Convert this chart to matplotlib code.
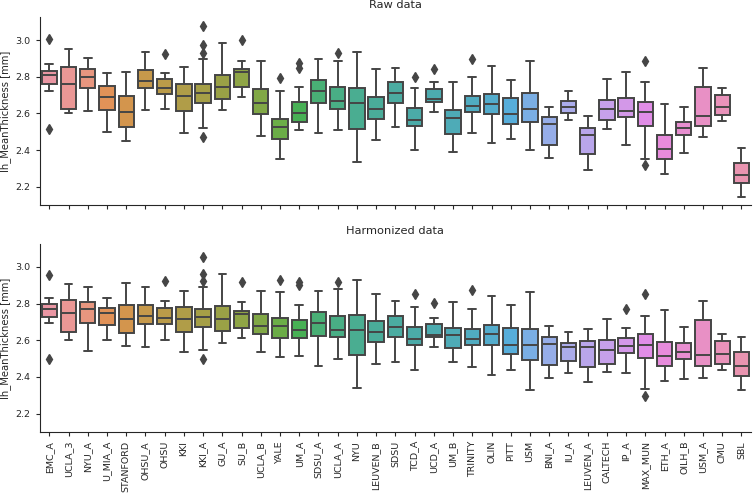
import colorsys
import matplotlib
matplotlib.use("Agg")
import matplotlib.pyplot as plt
import seaborn as sns

sns.set_style("ticks")
plt.rcParams["font.family"] = ["DejaVu Sans"]

SITES = ["EMC_A", "UCLA_3", "NYU_A", "U_MIA_A", "STANFORD", "OHSU_A", "OHSU",
         "KKI", "KKI_A", "GU_A", "SU_B", "UCLA_B", "YALE", "UM_A", "SDSU_A",
         "UCLA_A", "NYU", "LEUVEN_B", "SDSU", "TCD_A", "UCD_A", "UM_B",
         "TRINITY", "OLIN", "PITT", "USM", "BNI_A", "IU_A", "LEUVEN_A",
         "CALTECH", "IP_A", "MAX_MUN", "ETH_A", "OILH_B", "USM_A", "CMU", "SBL"]

# Raw data: whisker low, q1, median, q3, whisker high, fliers
raw_lo = [2.724, 2.601, 2.612, 2.501, 2.449, 2.621, 2.624, 2.494, 2.521, 2.617,
          2.688, 2.478, 2.350, 2.512, 2.494, 2.512, 2.334, 2.454, 2.525, 2.401,
          2.608, 2.392, 2.494, 2.438, 2.461, 2.401, 2.358, 2.565, 2.294, 2.517,
          2.427, 2.352, 2.269, 2.385, 2.472, 2.557, 2.146]
raw_q1 = [2.759, 2.626, 2.737, 2.619, 2.527, 2.737, 2.704, 2.612, 2.655, 2.679,
          2.742, 2.599, 2.459, 2.554, 2.655, 2.626, 2.514, 2.572, 2.655, 2.530,
          2.664, 2.487, 2.608, 2.595, 2.541, 2.556, 2.427, 2.605, 2.381, 2.563,
          2.579, 2.534, 2.349, 2.483, 2.530, 2.594, 2.220]
raw_med = [2.810, 2.759, 2.797, 2.690, 2.610, 2.775, 2.739, 2.697, 2.713, 2.746,
           2.826, 2.655, 2.527, 2.601, 2.720, 2.668, 2.655, 2.626, 2.710, 2.565,
           2.679, 2.576, 2.641, 2.650, 2.597, 2.624, 2.543, 2.637, 2.483, 2.624,
           2.612, 2.610, 2.407, 2.519, 2.588, 2.637, 2.262]
raw_q3 = [2.833, 2.855, 2.840, 2.750, 2.697, 2.837, 2.786, 2.762, 2.759, 2.810,
          2.840, 2.733, 2.568, 2.661, 2.780, 2.744, 2.737, 2.689, 2.770, 2.632,
          2.733, 2.617, 2.693, 2.704, 2.686, 2.712, 2.579, 2.668, 2.523, 2.675,
          2.686, 2.664, 2.481, 2.556, 2.744, 2.702, 2.331]
raw_hi = [2.869, 2.953, 2.904, 2.820, 2.828, 2.935, 2.820, 2.855, 2.897, 2.985,
          2.889, 2.889, 2.720, 2.744, 2.897, 2.889, 2.935, 2.842, 2.846, 2.737,
          2.773, 2.773, 2.799, 2.857, 2.781, 2.889, 2.637, 2.720, 2.586, 2.786,
          2.828, 2.773, 2.652, 2.634, 2.849, 2.737, 2.412]
raw_fliers = {"EMC_A": [3.004, 2.514], "OHSU": [2.922],
              "KKI_A": [3.080, 2.971, 2.931, 2.470], "SU_B": [3.000],
              "YALE": [2.795], "UM_A": [2.875, 2.849], "UCLA_A": [2.929],
              "TCD_A": [2.799], "UCD_A": [2.844], "TRINITY": [2.898],
              "MAX_MUN": [2.889, 2.318]}

# Harmonized data
harm_lo = [2.695, 2.603, 2.543, 2.603, 2.569, 2.561, 2.603, 2.536, 2.547, 2.583,
           2.610, 2.536, 2.507, 2.514, 2.458, 2.500, 2.338, 2.469, 2.483, 2.440,
           2.561, 2.480, 2.454, 2.413, 2.436, 2.329, 2.393, 2.422, 2.373, 2.427,
           2.422, 2.333, 2.376, 2.387, 2.393, 2.436, 2.329]
harm_q1 = [2.728, 2.643, 2.692, 2.683, 2.639, 2.686, 2.690, 2.647, 2.670, 2.652,
           2.665, 2.632, 2.614, 2.610, 2.625, 2.618, 2.521, 2.590, 2.619, 2.572,
           2.616, 2.556, 2.572, 2.572, 2.527, 2.494, 2.463, 2.487, 2.456, 2.469,
           2.529, 2.502, 2.458, 2.498, 2.458, 2.473, 2.404]
harm_med = [2.773, 2.750, 2.768, 2.748, 2.715, 2.730, 2.724, 2.717, 2.726, 2.717,
            2.741, 2.677, 2.676, 2.654, 2.692, 2.656, 2.654, 2.645, 2.674, 2.607,
            2.630, 2.628, 2.605, 2.632, 2.576, 2.576, 2.581, 2.565, 2.561, 2.547,
            2.569, 2.576, 2.514, 2.538, 2.521, 2.525, 2.460]
harm_q3 = [2.797, 2.822, 2.810, 2.775, 2.793, 2.790, 2.775, 2.779, 2.768, 2.786,
           2.759, 2.743, 2.719, 2.708, 2.755, 2.732, 2.739, 2.706, 2.732, 2.672,
           2.690, 2.665, 2.661, 2.683, 2.665, 2.661, 2.616, 2.583, 2.598, 2.603,
           2.614, 2.632, 2.589, 2.583, 2.710, 2.598, 2.534]
harm_hi = [2.831, 2.906, 2.891, 2.833, 2.913, 2.888, 2.815, 2.869, 2.891, 2.962,
           2.811, 2.869, 2.862, 2.793, 2.871, 2.880, 2.927, 2.853, 2.815, 2.782,
           2.723, 2.806, 2.772, 2.839, 2.790, 2.862, 2.679, 2.645, 2.661, 2.717,
           2.666, 2.732, 2.763, 2.670, 2.815, 2.636, 2.619]
harm_fliers = {"EMC_A": [2.958, 2.500], "OHSU": [2.926],
               "KKI_A": [3.056, 2.964, 2.926, 2.500], "SU_B": [2.918],
               "YALE": [2.929], "UM_A": [2.918, 2.900], "UCLA_A": [2.917],
               "TCD_A": [2.850], "UCD_A": [2.801], "TRINITY": [2.875],
               "IP_A": [2.768], "MAX_MUN": [2.853, 2.297]}

PANELS = [("Raw data", raw_lo, raw_q1, raw_med, raw_q3, raw_hi, raw_fliers),
          ("Harmonized data", harm_lo, harm_q1, harm_med, harm_q3, harm_hi, harm_fliers)]

# seaborn-style colours: husl palette, desaturated by 0.75 (a little lighter)
colors = [sns.desaturate(c, .75) for c in sns.husl_palette(len(SITES), l=.7)]
lum = min(colorsys.rgb_to_hls(*c)[1] for c in colors) * .6
gray = (lum, lum, lum)

fig = plt.figure(figsize=(7.56, 4.93), dpi=100)
ax_top = fig.add_axes([0.0525, 0.584, 0.941, 0.381])
ax_bot = fig.add_axes([0.0525, 0.124, 0.941, 0.381], sharex=ax_top, sharey=ax_top)

for ax, (title, lo, q1, med, q3, hi, fl) in zip([ax_top, ax_bot], PANELS):
    stats = [dict(whislo=lo[i], q1=q1[i], med=med[i], q3=q3[i], whishi=hi[i],
                  fliers=fl.get(s, []), label=s) for i, s in enumerate(SITES)]
    bp = ax.bxp(stats, positions=range(len(SITES)), widths=.8, patch_artist=True,
                boxprops=dict(edgecolor=gray, linewidth=1.4),
                medianprops=dict(color=gray, linewidth=1.4),
                whiskerprops=dict(color=gray, linewidth=1.4),
                capprops=dict(color=gray, linewidth=1.4),
                flierprops=dict(marker="d", markerfacecolor=gray,
                                markeredgecolor=gray, markersize=5))
    for patch, c in zip(bp["boxes"], colors):
        patch.set_facecolor(c)
    ax.set_title(title, fontsize=8.2, pad=7)
    ax.set_ylabel("lh_MeanThickness [mm]", fontsize=7.2, labelpad=3)
    ax.tick_params(labelsize=6.8, length=3)
    sns.despine(ax=ax)

ax_top.set_xlim(-0.5, len(SITES) - 0.5)
ax_top.set_ylim(2.1, 3.125)
ax_top.set_yticks([2.2, 2.4, 2.6, 2.8, 3.0])
ax_top.tick_params(axis="x", labelbottom=False)
ax_bot.set_xticks(range(len(SITES)))
ax_bot.set_xticklabels(SITES, rotation=90)

fig.savefig("out.png", dpi=100)
